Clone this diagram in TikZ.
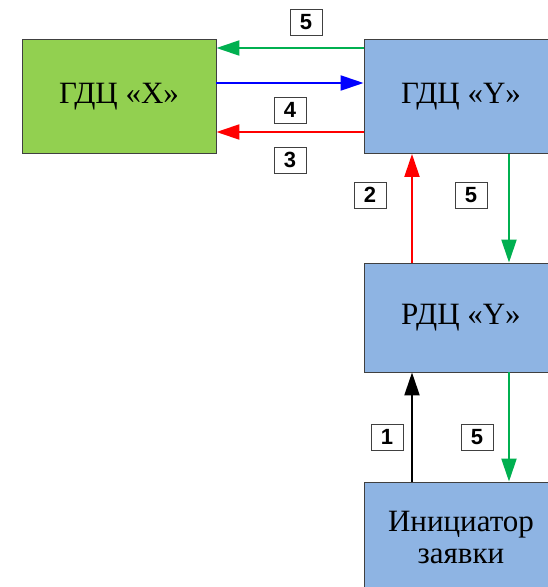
\documentclass[tikz,border=0pt]{standalone}
\usepackage{fontspec}
\setmainfont{Liberation Serif}
\newfontfamily\labelfont{Liberation Sans}
\usetikzlibrary{arrows.meta}
\definecolor{boxgreen}{HTML}{92D050}
\definecolor{boxblue}{HTML}{8EB4E3}
\definecolor{argreen}{HTML}{00B050}
\definecolor{arred}{HTML}{FF0000}
\definecolor{arblue}{HTML}{0000FF}
\definecolor{edge}{HTML}{404040}
\tikzset{
  unit/.style={x=1pt,y=-1pt},
  block/.style={draw=edge, line width=0.9pt, minimum width=194pt, minimum height=114pt,
    inner sep=0pt, font=\fontsize{31}{32}\selectfont, align=center},
  tag/.style={draw=edge, fill=white, line width=0.8pt, minimum width=32pt, minimum height=26pt,
    inner sep=0pt, font=\labelfont\bfseries\fontsize{22}{22}\selectfont},
  flow/.style={line width=2.2pt, -{Triangle[length=23pt,width=15pt]}},
}
\begin{document}
\begin{tikzpicture}[unit]
\useasboundingbox (0,0) rectangle (547,587);
\node[block, fill=boxgreen] (gx) at (119,96.5) {ГДЦ «X»};
\node[block, fill=boxblue] (gy) at (461,96.5) {ГДЦ «Y»};
\node[block, fill=boxblue, minimum height=109pt] (ry) at (461,317.5) {РДЦ «Y»};
\node[block, fill=boxblue, minimum height=110pt] (in) at (461,537) {Инициатор\\заявки};
% horizontal connectors
\draw[flow, argreen] (gy.west |- 0,48) -- (gx.east |- 0,48);
\draw[flow, arblue] (gx.east |- 0,83) -- (gy.west |- 0,83);
\draw[flow, arred] (gy.west |- 0,132) -- (gx.east |- 0,132);
% vertical connectors
\draw[flow, arred] (ry.north -| 412,0) -- (gy.south -| 412,0);
\draw[flow, argreen] (gy.south -| 509,0) -- (ry.north -| 509,0);
\draw[flow, black] (in.north -| 412,0) -- (ry.south -| 412,0);
\draw[flow, argreen] (ry.south -| 509,0) -- (in.north -| 509,0);
% labels
\node[tag] (t5a) at (306,22) {5};
\node[tag] (t4) at (290,110) {4};
\node[tag] (t3) at (290,160) {3};
\node[tag] (t2) at (370,195) {2};
\node[tag] (t5b) at (471,195) {5};
\node[tag] (t1) at (387,437) {1};
\node[tag] (t5c) at (477,437) {5};
\end{tikzpicture}
\end{document}
